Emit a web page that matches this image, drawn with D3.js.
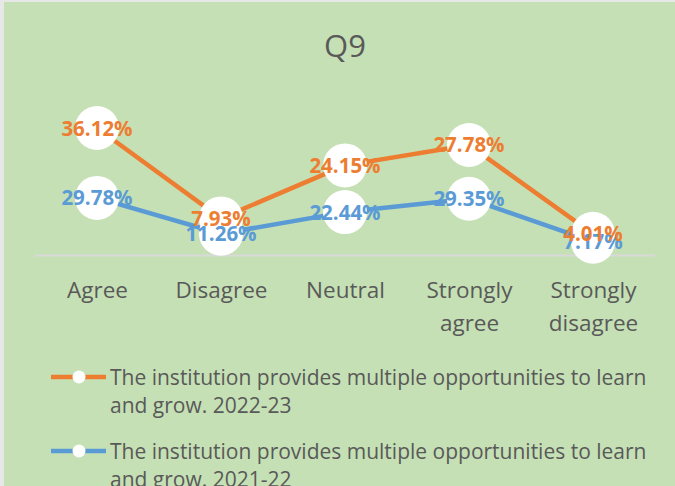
<!DOCTYPE html>
<html>
<head>
<meta charset="utf-8">
<script src="https://cdn.jsdelivr.net/npm/d3@7"></script>
<style>
  html, body { margin: 0; padding: 0; background: #e7e7e7; }
  svg { display: block; font-family: "Open Sans", sans-serif; }
</style>
</head>
<body>
<svg id="canvas"></svg>
<script>
// Chart data.
var title = 'Q9';
var categories = ['Agree', 'Disagree', 'Neutral', 'Strongly agree', 'Strongly disagree'];
var seriesNames = [
  'The institution provides multiple opportunities to learn and grow. 2021-22',
  'The institution provides multiple opportunities to learn and grow. 2022-23'
];
var values2122 = [29.78, 11.26, 22.44, 29.35, 7.17];
var values2223 = [36.12, 7.93, 24.15, 27.78, 4.01];
var yDomain = [0, 70];

// Canvas properties.
var canvas = { width: 675, height: 486 };

var colours = {
  background: '#c5e0b4',
  text: '#595959',
  baseline: '#d9d9d9',
  series: ['#5b9bd5', '#ed7d31']
};

var plot = { left: 35, right: 655, top: 120.1, bottom: 255.5 };

var svg = d3.select('#canvas')
  .attr('width', canvas.width)
  .attr('height', canvas.height);

// Chart area background.
svg.append('rect')
  .attr('x', 4).attr('y', 2)
  .attr('width', canvas.width - 4).attr('height', canvas.height - 2)
  .attr('fill', colours.background);

// Title.
svg.append('text')
  .attr('x', 345).attr('y', 57)
  .attr('text-anchor', 'middle')
  .attr('fill', colours.text)
  .style('font-size', '31px')
  .text(title);

// Stacked rows (Excel stacked line chart).
var rows = categories.map(function(c, i) {
  return { cat: c, s0: values2122[i], s1: values2223[i] };
});
var stacked = d3.stack().keys(['s0', 's1'])(rows);

var x = d3.scalePoint().domain(categories).range([plot.left, plot.right]).padding(0.5);
var y = d3.scaleLinear().domain(yDomain).range([plot.bottom, plot.top]);

// Category axis.
var xAxis = svg.append('g')
  .attr('transform', 'translate(0,' + plot.bottom + ')')
  .call(d3.axisBottom(x).tickSize(0).tickPadding(0));
xAxis.select('.domain').remove();
svg.append('line')
  .attr('x1', plot.left).attr('x2', plot.right)
  .attr('y1', plot.bottom).attr('y2', plot.bottom)
  .attr('stroke', colours.baseline).attr('stroke-width', 2);

// Wrap category labels that are wider than a band.
xAxis.selectAll('.tick text')
  .attr('fill', colours.text)
  .style('font-family', '"Open Sans", sans-serif')
  .style('font-size', '22.5px')
  .attr('dy', null)
  .each(function(d) {
    var words = d.split(' ');
    var t = d3.select(this).text(null);
    var lines = words.length > 1 && d.length > 8 ? words : [d];
    lines.forEach(function(w, i) {
      t.append('tspan').attr('x', 0).attr('y', 42 + i * 33).text(w);
    });
  });

// Lines.
var line = d3.line()
  .x(function(d) { return x(d.data.cat); })
  .y(function(d) { return y(d[1]); });

svg.selectAll('.series-line')
  .data(stacked)
  .enter().append('path')
  .attr('class', 'series-line')
  .attr('d', line)
  .attr('fill', 'none')
  .attr('stroke', function(d, i) { return colours.series[i]; })
  .attr('stroke-width', 4.5)
  .attr('stroke-linejoin', 'round');

// Markers.
stacked.forEach(function(s) {
  svg.selectAll(null)
    .data(s)
    .enter().append('circle')
    .attr('cx', function(d) { return x(d.data.cat); })
    .attr('cy', function(d) { return y(d[1]); })
    .attr('r', 22)
    .attr('fill', '#ffffff');
});

// Data labels.
stacked.forEach(function(s, k) {
  var raw = k === 0 ? values2122 : values2223;
  svg.selectAll(null)
    .data(s)
    .enter().append('text')
    .attr('x', function(d) { return x(d.data.cat); })
    .attr('y', function(d) { return y(d[1]) + 7.5; })
    .attr('text-anchor', 'middle')
    .attr('fill', colours.series[k])
    .style('font-size', '20.5px')
    .style('font-weight', 'bold')
    .text(function(d, i) { return raw[i].toFixed(2) + '%'; });
});

// Legend (2022-23 first, then 2021-22).
var legendOrder = [1, 0];
var legend = svg.selectAll('.legend')
  .data(legendOrder)
  .enter().append('g')
  .attr('class', 'legend')
  .attr('transform', function(d, i) { return 'translate(51,' + (377 + i * 74) + ')'; });

legend.append('line')
  .attr('x1', 0).attr('x2', 55)
  .attr('stroke', function(d) { return colours.series[d]; })
  .attr('stroke-width', 4.5);
legend.append('circle')
  .attr('cx', 28).attr('r', 6.5)
  .attr('fill', '#ffffff');

legend.append('text')
  .attr('fill', colours.text)
  .style('font-size', '21px')
  .each(function(d) {
    var name = seriesNames[d];
    var cut = name.indexOf(' and grow');
    var t = d3.select(this);
    t.append('tspan').attr('x', 59).attr('y', 8).text(name.slice(0, cut));
    t.append('tspan').attr('x', 59).attr('y', 36).text(name.slice(cut + 1));
  });
</script>
</body>
</html>
